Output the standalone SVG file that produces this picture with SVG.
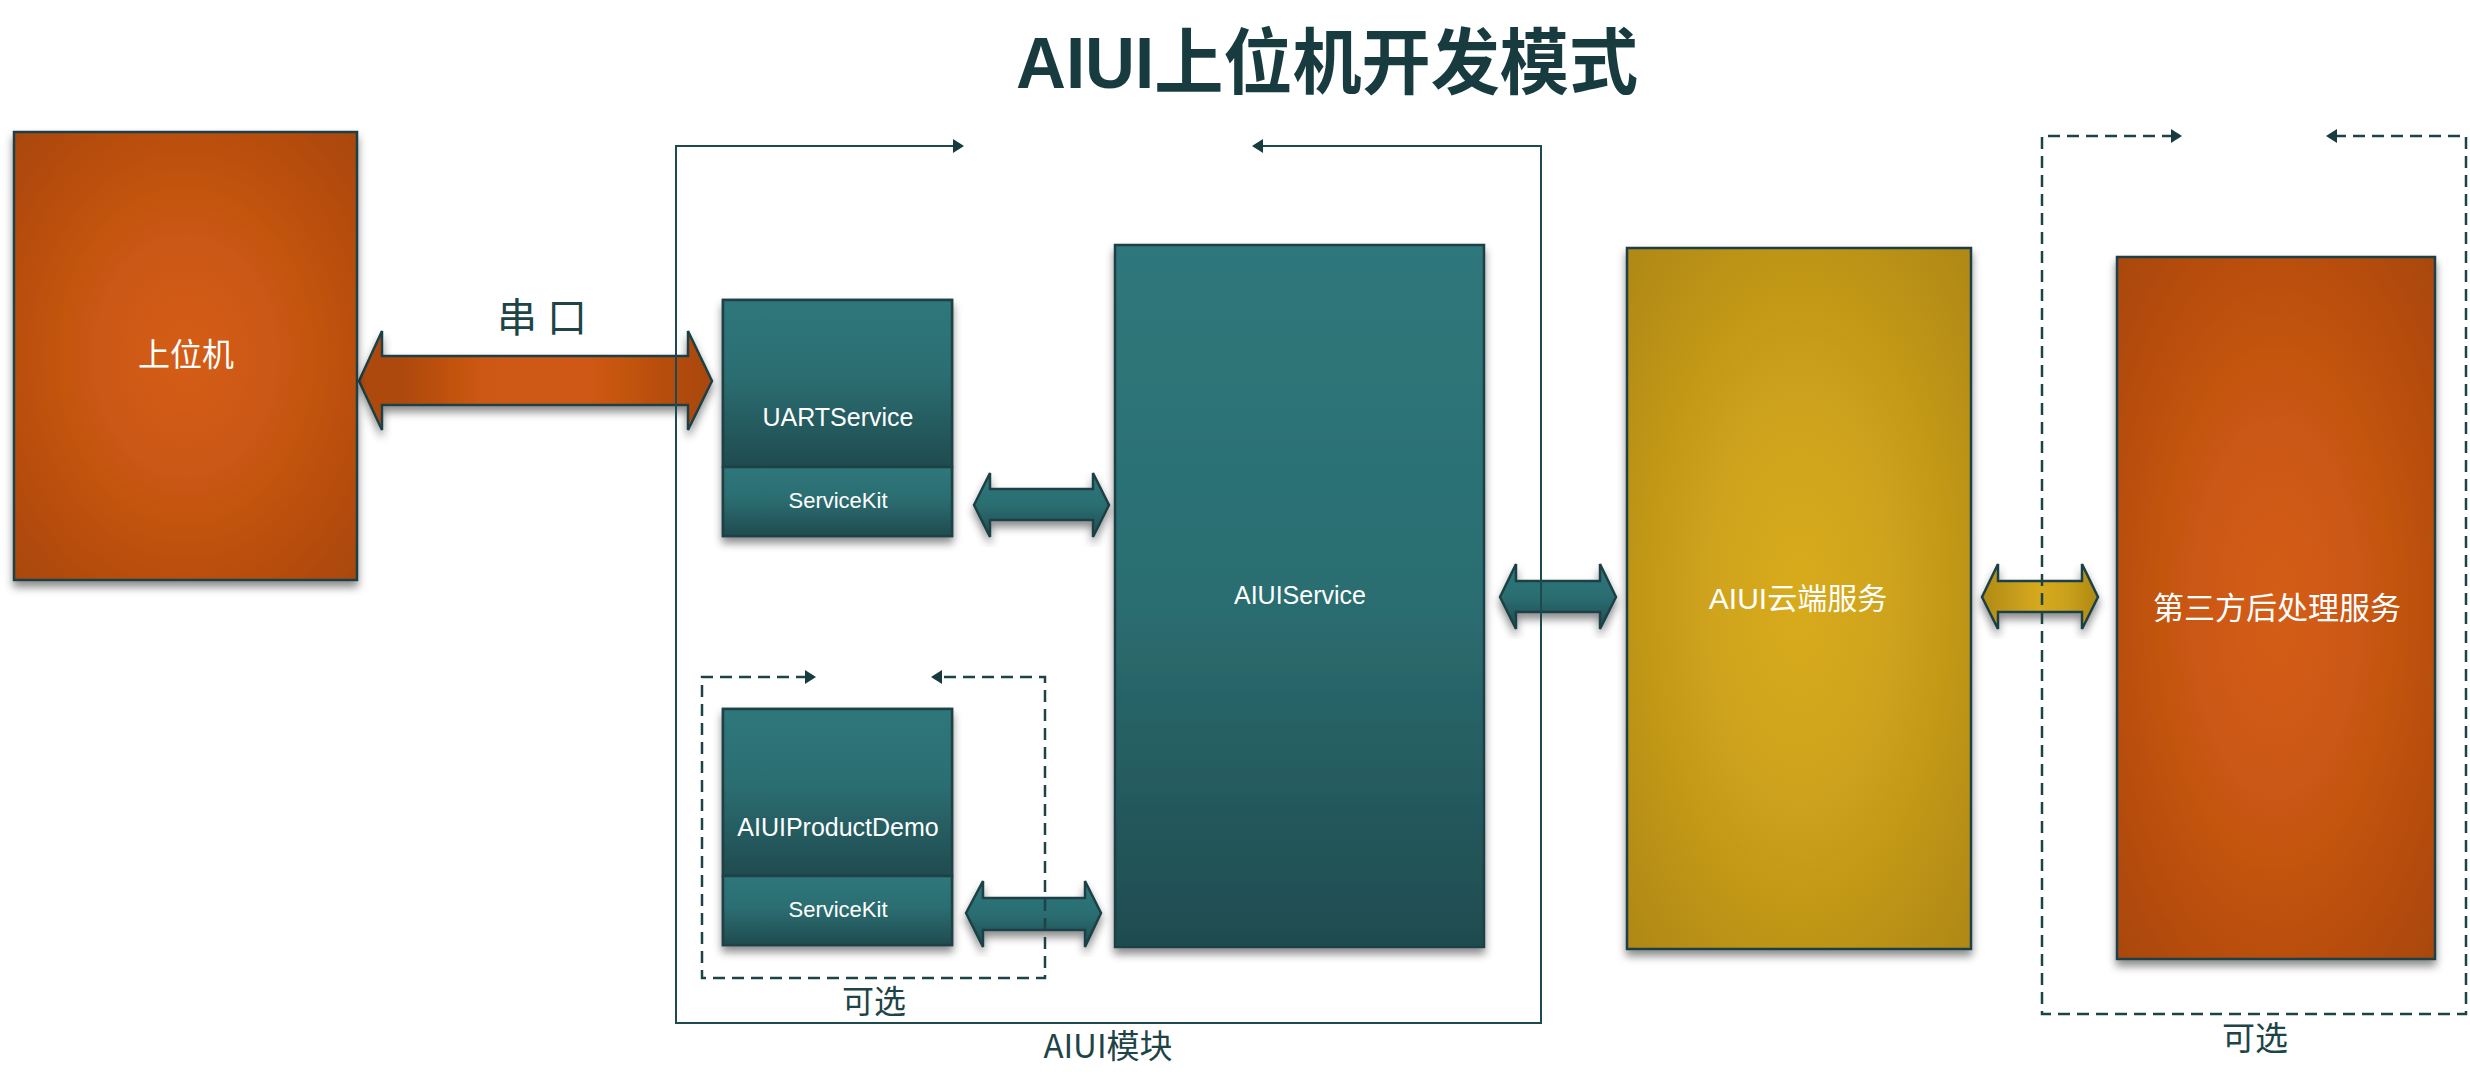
<svg xmlns="http://www.w3.org/2000/svg" width="2470" height="1085" viewBox="0 0 2470 1085">
<style>
.box{stroke:#1d4144;stroke-width:2.5}
.lbl{fill:#ffffff;font-family:"Liberation Sans","Noto Sans CJK SC",sans-serif;text-anchor:middle}
.cjk{font-family:"Noto Sans CJK SC","Liberation Sans",sans-serif}
.dlbl{fill:#1d4447;font-family:"Noto Sans CJK SC","Liberation Sans",sans-serif;text-anchor:middle}
.frame{fill:none;stroke:#1f4a4d;stroke-width:2}
.dash{fill:none;stroke:#1e4347;stroke-width:2.5;stroke-dasharray:12 7}
.arr{stroke:#1d4144;stroke-width:2.5;stroke-linejoin:miter}
</style>
<defs>
<radialGradient id="gOrange" cx="0.5" cy="0.5" r="0.75">
<stop offset="0" stop-color="#d45c12"/>
<stop offset="0.35" stop-color="#cb5812"/>
<stop offset="1" stop-color="#a6450d"/>
</radialGradient>
<radialGradient id="gYellow" cx="0.5" cy="0.5" r="0.75">
<stop offset="0" stop-color="#d8ab1d"/>
<stop offset="0.35" stop-color="#cfa31b"/>
<stop offset="1" stop-color="#ab8515"/>
</radialGradient>
<linearGradient id="gTeal" x1="0" y1="0" x2="0" y2="1">
<stop offset="0" stop-color="#2e777b"/>
<stop offset="0.5" stop-color="#2b6e72"/>
<stop offset="1" stop-color="#1f4b4f"/>
</linearGradient>
<linearGradient id="gTealS" x1="0" y1="0" x2="0" y2="1">
<stop offset="0" stop-color="#2e777b"/>
<stop offset="0.45" stop-color="#2b6e72"/>
<stop offset="1" stop-color="#1f4b4f"/>
</linearGradient>
<linearGradient id="gOrangeH" x1="0" y1="0" x2="1" y2="0">
<stop offset="0" stop-color="#ae4a0e"/>
<stop offset="0.12" stop-color="#ad490e"/>
<stop offset="0.35" stop-color="#cd5812"/>
<stop offset="0.65" stop-color="#cf5912"/>
<stop offset="0.88" stop-color="#b54d0f"/>
<stop offset="1" stop-color="#a8460d"/>
</linearGradient>
<linearGradient id="gYellowH" x1="0" y1="0" x2="1" y2="0">
<stop offset="0" stop-color="#b08a16"/>
<stop offset="0.25" stop-color="#c39a1a"/>
<stop offset="0.5" stop-color="#d7aa1d"/>
<stop offset="0.75" stop-color="#c9a01b"/>
<stop offset="1" stop-color="#ad8715"/>
</linearGradient>
<filter id="shadow" x="-10%" y="-10%" width="120%" height="125%">
<feDropShadow dx="0" dy="6" stdDeviation="4" flood-color="#000" flood-opacity="0.45"/>
</filter>
<marker id="ah" viewBox="0 0 11 14" refX="3" refY="7" markerWidth="11" markerHeight="14" markerUnits="userSpaceOnUse" orient="auto-start-reverse">
<path d="M0,0 L11,7 L0,14 z" fill="#173c3f"/>
</marker>
</defs>
<rect width="2470" height="1085" fill="#ffffff"/>

<g id="title">
<text x="1327" y="88" font-family="'Liberation Sans','Noto Sans CJK SC',sans-serif" font-weight="bold" font-size="72" fill="#173b3e" text-anchor="middle" textLength="622" lengthAdjust="spacingAndGlyphs">AIUI上位机开发模式</text>
</g>

<g id="connectors">
<polygon class="arr" filter="url(#shadow)" fill="url(#gOrangeH)" points="359,381 382,331 382,356 688,356 688,331 712,381 688,430 688,405 382,405 382,430"/>
<polygon class="arr" filter="url(#shadow)" fill="url(#gTeal)" points="974,505 990,473 990,489 1093,489 1093,473 1109,505 1093,537 1093,520 990,520 990,537"/>
<polygon class="arr" filter="url(#shadow)" fill="url(#gTeal)" points="966,913 983,881 983,898 1085,898 1085,881 1101,913 1085,947 1085,930 983,930 983,947"/>
<polygon class="arr" filter="url(#shadow)" fill="url(#gTeal)" points="1500,597 1516,564 1516,581 1600,581 1600,564 1616,597 1600,629 1600,612 1516,612 1516,629"/>
<polygon class="arr" filter="url(#shadow)" fill="url(#gYellowH)" points="1982,597 1998,564 1998,581 2082,581 2082,564 2098,597 2082,629 2082,612 1998,612 1998,629"/>
<text x="547" y="332" class="dlbl" font-size="40" letter-spacing="10">串口</text>
</g>

<g id="aiui-module">
<path class="frame" d="M956,146 L676,146 L676,1023 L1541,1023 L1541,146 L1260,146" marker-start="url(#ah)" marker-end="url(#ah)"/>
<text x="1108" y="1058" class="dlbl" font-size="33">AIUI模块</text>
</g>

<g id="optional-demo">
<path class="dash" d="M808,677 L702,677 L702,978 L1045,978 L1045,677 L939,677" marker-start="url(#ah)" marker-end="url(#ah)"/>
<text x="874" y="1013" class="dlbl" font-size="32">可选</text>
</g>

<g id="optional-third">
<path class="dash" d="M2174,136 L2042,136 L2042,1014 L2466,1014 L2466,136 L2334,136" marker-start="url(#ah)" marker-end="url(#ah)"/>
<text x="2255" y="1050" class="dlbl" font-size="33">可选</text>
</g>

<g id="host">
<rect class="box" filter="url(#shadow)" x="14" y="132" width="343" height="448" fill="url(#gOrange)"/>
<text x="186" y="366" class="lbl cjk" font-size="32">上位机</text>
</g>

<g id="uartservice">
<rect class="box" filter="url(#shadow)" x="723" y="300" width="229" height="236" fill="url(#gTeal)"/>
<rect class="box" x="723" y="300" width="229" height="167" fill="url(#gTealS)"/>
<rect class="box" x="723" y="467" width="229" height="69" fill="url(#gTealS)"/>
<text x="838" y="426" class="lbl" font-size="25">UARTService</text>
<text x="838" y="508" class="lbl" font-size="22">ServiceKit</text>
</g>

<g id="productdemo">
<rect class="box" filter="url(#shadow)" x="723" y="709" width="229" height="236" fill="url(#gTeal)"/>
<rect class="box" x="723" y="709" width="229" height="167" fill="url(#gTealS)"/>
<rect class="box" x="723" y="876" width="229" height="69" fill="url(#gTealS)"/>
<text x="838" y="836" class="lbl" font-size="25">AIUIProductDemo</text>
<text x="838" y="917" class="lbl" font-size="22">ServiceKit</text>
</g>

<g id="aiuiservice">
<rect class="box" filter="url(#shadow)" x="1115" y="245" width="369" height="702" fill="url(#gTeal)"/>
<text x="1300" y="604" class="lbl" font-size="25">AIUIService</text>
</g>

<g id="aiui-cloud">
<rect class="box" filter="url(#shadow)" x="1627" y="248" width="344" height="701" fill="url(#gYellow)"/>
<text x="1798" y="609" class="lbl" font-size="30">AIUI云端服务</text>
</g>

<g id="third-party">
<rect class="box" filter="url(#shadow)" x="2117" y="257" width="318" height="702" fill="url(#gOrange)"/>
<text x="2277" y="619" class="lbl cjk" font-size="31">第三方后处理服务</text>
</g>
</svg>
